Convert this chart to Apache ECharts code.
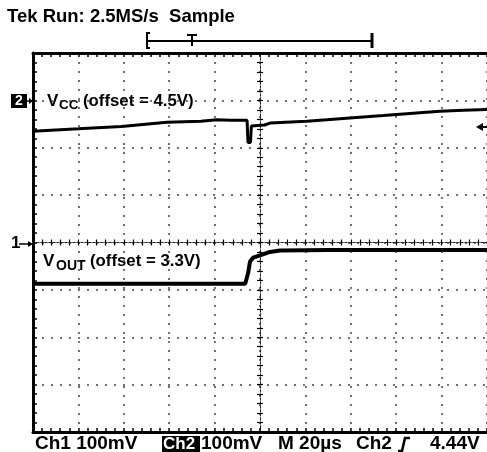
<!DOCTYPE html>
<html>
<head>
<meta charset="utf-8">
<script src="https://cdn.jsdelivr.net/npm/echarts@6/dist/echarts.min.js"></script>
<style>
  html, body { margin: 0; padding: 0; background: #fff; }
  #chart { width: 487px; height: 452px; }
</style>
</head>
<body>
<div id="chart"></div>
<script>
// time in µs (M 20µs/div), level in mV on screen (100mV/div)
const timeRange = [-100, 100];
const levelRange = [-400, 400];

const vccTime  = [-100, -80, -61, -41, -26, -19, -13, -5.7, -5.3, -4.2, -3.8, -1, 2, 4.4, 20.6, 29.4, 45.5, 54.3, 64.6, 79.3, 89.6, 100];
const vccLevel = [235, 240, 245, 254, 256, 259, 258, 258, 211, 211, 246, 247, 248, 252, 256, 259, 265, 268, 272, 277, 279, 281];

const voutTime  = [-100, -6.5, -5.8, -5.2, -4.4, -3, 0, 4.4, 8.8, 30, 100];
const voutLevel = [-87, -87, -89, -64, -40, -32, -27, -20, -17, -16, -16];

const pairs = (xs, ys) => xs.map((x, i) => [x, ys[i]]);

const FONT = 'Liberation Sans, Arial, sans-serif';

let chart = echarts.init(document.getElementById('chart'));

// frame edge axis with inward ticks
const frameAxis = (position, range, interval, grid) => ({
  type: 'value',
  position: position,
  min: range[0],
  max: range[1],
  interval: interval,
  axisLine: { show: true, onZero: false, lineStyle: { color: '#000', width: 3 } },
  axisTick: { show: true, inside: true, length: 4, lineStyle: { color: '#000', width: 1.5 } },
  minorTick: { show: true, splitNumber: 5, length: 4, lineStyle: { color: '#000', width: 1.5 } },
  axisLabel: { show: false },
  splitLine: {
    show: grid,
    lineStyle: { color: '#444', width: 1.5, type: [2, 7] }
  }
});

// center cross-hair axis
const centerAxis = (position, range, interval, inside) => ({
  type: 'value',
  position: position,
  min: range[0],
  max: range[1],
  interval: interval,
  axisLine: { show: true, onZero: true, onZeroAxisIndex: 0, lineStyle: { color: '#222', width: 1, type: [2, 2] } },
  axisTick: { show: true, inside: inside, length: 3, lineStyle: { color: '#000', width: 1.2 } },
  minorTick: { show: true, splitNumber: 5, length: 3, lineStyle: { color: '#000', width: 1.2 } },
  axisLabel: { show: false },
  splitLine: { show: false }
});

const txt = (x, y, text, size, extra) => ({
  type: 'text',
  x: x,
  y: y,
  style: Object.assign({
    text: text,
    font: 'bold ' + size + 'px ' + FONT,
    fill: '#000',
    verticalAlign: 'middle',
    align: 'left'
  }, extra || {})
});

chart.setOption({
  backgroundColor: '#fff',
  animation: false,
  grid: { left: 33, top: 53, width: 454, height: 379 },
  xAxis: [
    frameAxis('bottom', timeRange, 20, true),
    frameAxis('top', timeRange, 20, false),
    centerAxis('bottom', timeRange, 20, true),
    centerAxis('bottom', timeRange, 20, false)
  ],
  yAxis: [
    frameAxis('left', levelRange, 100, true),
    centerAxis('left', levelRange, 100, true),
    centerAxis('left', levelRange, 100, false)
  ],
  series: [
    {
      name: 'Vcc',
      type: 'line',
      data: pairs(vccTime, vccLevel),
      showSymbol: false,
      lineStyle: { color: '#000', width: 3 },
      z: 5
    },
    {
      name: 'Vout',
      type: 'line',
      data: pairs(voutTime, voutLevel),
      showSymbol: false,
      lineStyle: { color: '#000', width: 4 },
      z: 5
    }
  ],
  graphic: [
    txt(7, 17, 'Tek Run: 2.5MS/s  Sample', 18.5),
    // acquisition record bar with trigger point
    { type: 'line', shape: { x1: 147, y1: 41, x2: 372, y2: 41 }, style: { stroke: '#000', lineWidth: 2 } },
    { type: 'polyline', shape: { points: [[150, 33], [147, 33], [147, 48], [150, 48]] }, style: { stroke: '#000', lineWidth: 2, fill: null } },
    { type: 'line', shape: { x1: 372, y1: 33, x2: 372, y2: 48 }, style: { stroke: '#000', lineWidth: 3 } },
    { type: 'line', shape: { x1: 187, y1: 35, x2: 197, y2: 35 }, style: { stroke: '#000', lineWidth: 2 } },
    { type: 'line', shape: { x1: 192, y1: 35, x2: 192, y2: 46 }, style: { stroke: '#000', lineWidth: 2 } },

    // channel 2 marker
    { type: 'rect', shape: { x: 11, y: 94, width: 16, height: 14 }, style: { fill: '#000' } },
    txt(19, 101.5, '2', 14, { fill: '#fff', align: 'center' }),
    { type: 'line', shape: { x1: 27, y1: 101, x2: 32, y2: 101 }, style: { stroke: '#000', lineWidth: 1.5 } },
    { type: 'polygon', shape: { points: [[33, 101], [29, 98], [29, 104]] }, style: { fill: '#000' } },
    txt(47, 101, 'V', 17),
    txt(59, 105, 'CC', 13.5),
    txt(83, 101, '(offset = 4.5V)', 16.8),

    // channel 1 marker
    txt(11, 243, '1', 17),
    { type: 'line', shape: { x1: 19, y1: 244, x2: 30, y2: 244 }, style: { stroke: '#000', lineWidth: 1.5 } },
    { type: 'polygon', shape: { points: [[33, 244], [28, 241], [28, 247]] }, style: { fill: '#000' } },
    txt(43, 261.5, 'V', 17),
    txt(56, 266, 'OUT', 14),
    txt(90, 261.5, '(offset = 3.3V)', 16.8),

    // trigger level arrow on the right
    { type: 'polygon', shape: { points: [[476, 127], [483, 123], [483, 131]] }, style: { fill: '#000' } },
    { type: 'line', shape: { x1: 482, y1: 127, x2: 487, y2: 127 }, style: { stroke: '#000', lineWidth: 2 } },

    // bottom readout
    txt(35, 444, 'Ch1 100mV', 19),
    { type: 'rect', shape: { x: 162, y: 436, width: 38, height: 16 }, style: { fill: '#000' } },
    txt(163, 444, 'Ch2', 17, { fill: '#fff' }),
    txt(201, 444, '100mV', 19),
    txt(278, 444, 'M 20\u00b5s', 19),
    txt(356, 444, 'Ch2', 19),
    { type: 'polyline', shape: { points: [[398, 451], [402, 451], [405, 438], [410, 438]] }, style: { stroke: '#000', lineWidth: 2.5, fill: null } },
    txt(430, 444, '4.44V', 19)
  ]
});
</script>
</body>
</html>
